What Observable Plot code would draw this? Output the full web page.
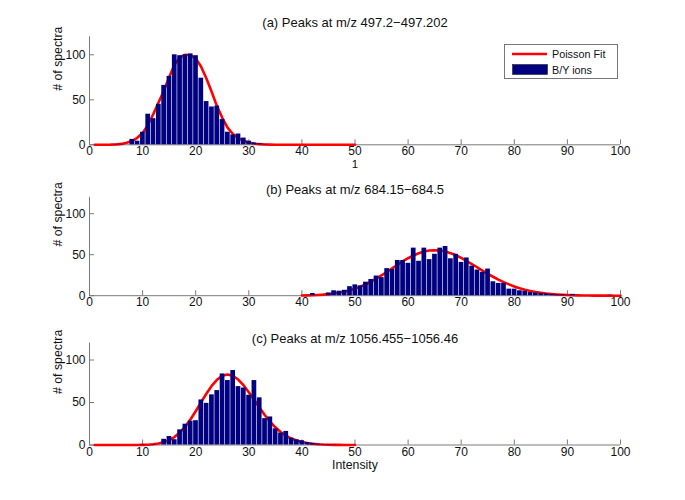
<!DOCTYPE html>
<html><head><meta charset="utf-8">
<script src="https://cdn.jsdelivr.net/npm/d3@7"></script>
<script src="https://cdn.jsdelivr.net/npm/@observablehq/plot@0.6"></script>
<style>
body{margin:0;background:#fff;font-family:"Liberation Sans",Arial,sans-serif;}
#wrap{position:relative;width:685px;height:500px;overflow:hidden;}
#wrap svg{display:block}
#legend{position:absolute;left:0;top:0;}
</style></head><body><div id="wrap"></div>
<script>
const xTicks = [0,10,20,30,40,50,60,70,80,90,100];
const yTicks = [0,50,100];
const titleA = "(a) Peaks at m/z 497.2\u2212497.202";
const titleB = "(b) Peaks at m/z 684.15\u2212684.5";
const titleC = "(c) Peaks at m/z 1056.455\u22121056.46";
const yLabel = "# of spectra";
const xLabel = "Intensity";
const legendLabels = ["Poisson Fit", "B/Y ions"];

// Panel (a)
const binsA = [5,6,8,9,10,11,12,13,14,15,16,17,18,19,20,21,22,23,24,25,26,27,28,29,30,31,32,33];
const countsA = [0.5,0.5,6,4,14,34,29,45,66,76,100,99,100,101,99,74,48,42,43,28,14,11,12,7.5,4,2,1,0.5];
const fitXA = [1,2,3,4,5,6,7,8,9,10,11,12,13,14,15,16,17,18,19,20,21,22,23,24,25,26,27,28,29,30,31,32,33,34,35,36,37,38,50];
const fitYA = [0,0,0.05,0.15,0.4,1,2.2,4.2,7.8,13,22,34,47,60,75,89,97,100,99.5,96,87,74,59,43,30,19,12,7.5,4.5,2.6,1.4,0.7,0.35,0.15,0.07,0,0,0,0];

// Panel (b)
const binsB = [42,45,46,47,48,49,50,51,52,53,54,55,56,57,58,59,60,61,62,63,64,65,66,67,68,69,70,71,72,73,74,75,76,77,78,79,80,81,82,83,84,85,86,87,88,89,90,91,98];
const countsB = [2.7,3.3,6,5.5,6.6,11,13.2,12,16.5,19.8,24,22,33,32,43,43,39.5,58,42,58,44,50.5,58,60,45,50.5,40.6,46,36,31.3,28.5,32.5,17,15,15,8,8,6,5.5,3.8,3.3,2.7,2.2,1.6,1.1,1.1,0.5,1.6,0.5];
const fitXB = [40,41,42,43,44,45,46,47,48,49,50,51,52,53,54,55,56,57,58,59,60,61,62,63,64,65,66,67,68,69,70,71,72,73,74,75,76,77,78,79,80,81,82,83,84,85,86,87,88,89,90,91,92,93,94,95,96,97,98,99,100];
const fitYB = [0.24,0.39,0.58,0.88,1.3,1.87,2.64,3.63,4.95,6.6,8.6,11,13.9,17.2,20.8,24.8,28.9,33.3,37.6,41.8,45.7,49,51.8,53.9,55.1,55.5,55.1,53.9,51.9,49.3,46.1,42.5,38.6,34.7,30.7,26.7,23.1,19.6,16.5,13.8,11.2,9.1,7.3,5.8,4.5,3.5,2.7,2.05,1.54,1.14,0.84,0.6,0.44,0.31,0.22,0.15,0.11,0.08,0.05,0.03,0.02];

// Panel (c)
const binsC = [10,12,14,15,16,17,18,19,20,21,22,23,24,25,26,27,28,29,30,31,32,33,34,35,36,37,38,39,40,41,42,43,44,45,46];
const countsC = [0.5,0.5,6.7,10,6.2,17.8,24.5,28,28.6,53,49,59,64,83.6,75.8,87.6,68.7,67,58.5,75.8,55.5,31,33,19,14,16,8,6,5,3,2,1,0.5,0.5,0.3];
const fitXC = [1,2,3,4,5,6,7,8,9,10,11,12,13,14,15,16,17,18,19,20,21,22,23,24,25,26,27,28,29,30,31,32,33,34,35,36,37,38,39,40,41,42,43,44,45,46,47,48,50];
const fitYC = [0,0,0,0,0,0,0,0.02,0.06,0.16,0.38,0.83,1.69,3.22,5.7,9.4,14.6,21.5,30,39.7,50.1,60.3,69.5,76.7,81.4,83,81.4,77,70.4,62.1,53.1,44,35.3,27.6,20.8,15.3,10.9,7.6,5.2,3.45,2.24,1.41,0.87,0.52,0.31,0.18,0.1,0.05,0];

const FONT = "Liberation Sans, Arial, Helvetica, sans-serif";
const AXIS = "#7a7a7a";

function panel(o) {
  const W = 685, ML = 89, MR = 65;
  const fw = W - ML - MR;
  const fh = o.height - o.mt - o.mb;
  const bars = o.bins.map((b, i) => ({x: b, n: o.counts[i]}));
  const fit = o.fx.map((x, i) => ({x, y: o.fy[i]}));
  const marks = [
    Plot.ruleY([0], {stroke: AXIS, strokeWidth: 1}),
    Plot.ruleX([0], {stroke: AXIS, strokeWidth: 1}),
    Plot.ruleX(xTicks, {stroke: AXIS, strokeWidth: 1, insetTop: fh - 5}),
    Plot.ruleY(yTicks, {stroke: AXIS, strokeWidth: 1, insetRight: fw - 5}),
    Plot.axisX(xTicks, {tickSize: 0, tickPadding: 2, fontSize: 12, label: null, fill: "#111"}),
    Plot.axisY(yTicks, {tickSize: 0, tickPadding: 4, fontSize: 12, label: null, fill: "#111"}),
    Plot.line(fit, {x: "x", y: "y", stroke: "#ff0000", strokeWidth: 2.6}),
    Plot.rectY(bars, {x1: d => d.x - 0.5, x2: d => d.x + 0.5, y: "n", fill: "#000080", insetLeft: 0.6}),
    Plot.text([o.title], {frameAnchor: "top", dy: o.titleDy, fontSize: 13, fill: "#111"}),
    Plot.text([yLabel], {frameAnchor: "left", dx: -31, rotate: -90, fontSize: 12.3, fill: "#111"})
  ];
  if (o.extra) marks.push(...o.extra);
  return Plot.plot({
    width: W, height: o.height,
    marginLeft: ML, marginRight: MR, marginTop: o.mt, marginBottom: o.mb,
    x: {domain: [0, 100]},
    y: {domain: [0, 120]},
    style: {fontFamily: FONT, fontSize: "12px", color: "#111", background: "#fff", overflow: "visible"},
    marks
  });
}

const wrap = document.getElementById("wrap");
wrap.appendChild(panel({
  title: titleA, bins: binsA, counts: countsA, fx: fitXA, fy: fitYA,
  height: 175, mt: 36.3, mb: 30.7, titleDy: -18.8,
  extra: [Plot.text(["1"], {x: 50, frameAnchor: "bottom", dy: 23.5, fontSize: 11.5, fill: "#111"})]
}));
wrap.appendChild(panel({
  title: titleB, bins: binsB, counts: countsB, fx: fitXB, fy: fitYB,
  height: 150, mt: 21.8, mb: 29.8, titleDy: -12.8
}));
wrap.appendChild(panel({
  title: titleC, bins: binsC, counts: countsC, fx: fitXC, fy: fitYC,
  height: 175, mt: 17.5, mb: 55.5, titleDy: -9.5,
  extra: [Plot.text([xLabel], {frameAnchor: "bottom", dy: 23.5, fontSize: 12.3, fill: "#111"})]
}));

// Legend overlay
const ns = "http://www.w3.org/2000/svg";
const lg = document.createElementNS(ns, "svg");
lg.setAttribute("id", "legend");
lg.setAttribute("width", 685);
lg.setAttribute("height", 175);
lg.style.position = "absolute"; lg.style.left = "0px"; lg.style.top = "0px";
function el(tag, attrs, text) {
  const e = document.createElementNS(ns, tag);
  for (const k in attrs) e.setAttribute(k, attrs[k]);
  if (text) e.textContent = text;
  lg.appendChild(e);
  return e;
}
el("rect", {x: 504.5, y: 44.5, width: 113, height: 34, fill: "#fff", stroke: "#777", "stroke-width": 1});
el("line", {x1: 512, x2: 547, y1: 54, y2: 54, stroke: "#ff0000", "stroke-width": 2.6});
el("rect", {x: 512.5, y: 64.5, width: 35, height: 10, fill: "#000080", stroke: "#222", "stroke-width": 0.6});
el("text", {x: 552, y: 54, "dominant-baseline": "central", "font-family": FONT, "font-size": 10.8, fill: "#111"}, legendLabels[0]);
el("text", {x: 552, y: 69.5, "dominant-baseline": "central", "font-family": FONT, "font-size": 10.8, fill: "#111"}, legendLabels[1]);
wrap.appendChild(lg);
</script></body></html>
